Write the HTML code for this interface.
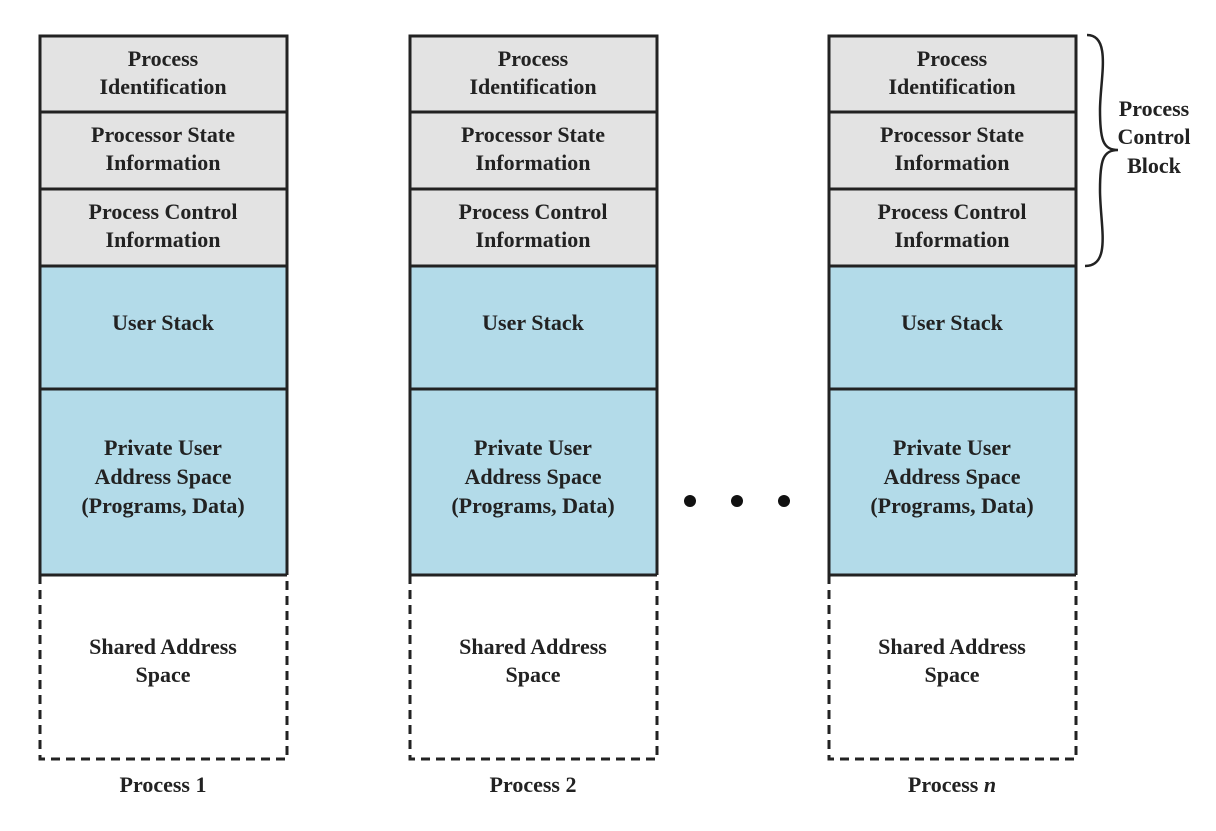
<!DOCTYPE html>
<html><head><style>body{margin:0;background:#fff}</style></head><body>
<svg width="1216" height="826" xmlns="http://www.w3.org/2000/svg" font-family="Liberation Serif, serif" font-weight="bold" font-size="22" fill="#222" text-anchor="middle">
<g id="c1">
<rect x="40" y="36" width="247" height="230" fill="#e3e3e3"/>
<rect x="40" y="266" width="247" height="309" fill="#b3dbe9"/>
<g stroke="#222" stroke-width="3" fill="none">
<path d="M40 575 V36 H287 V575"/>
<line x1="40" y1="112" x2="287" y2="112"/><line x1="40" y1="189" x2="287" y2="189"/>
<line x1="40" y1="266" x2="287" y2="266"/><line x1="40" y1="389" x2="287" y2="389"/>
<line x1="40" y1="575" x2="287" y2="575"/>
<path d="M40 575 V759 H287 V575" stroke-dasharray="9,6"/>
</g>
<text x="163" y="66">Process</text><text x="163" y="94">Identification</text>
<text x="163" y="142">Processor State</text><text x="163" y="170">Information</text>
<text x="163" y="219">Process Control</text><text x="163" y="247">Information</text>
<text x="163" y="330">User Stack</text>
<text x="163" y="455">Private User</text><text x="163" y="484">Address Space</text><text x="163" y="513">(Programs, Data)</text>
<text x="163" y="654">Shared Address</text><text x="163" y="682">Space</text>
</g>
<use href="#c1" x="370"/>
<use href="#c1" x="789"/>
<text x="163" y="792">Process 1</text>
<text x="533" y="792">Process 2</text>
<text x="952" y="792">Process <tspan font-style="italic">n</tspan></text>
<circle cx="690" cy="501" r="6" fill="#111"/><circle cx="737" cy="501" r="6" fill="#111"/><circle cx="784" cy="501" r="6" fill="#111"/>
<path d="M1087 35 C1112 35,1100 80,1100 110 C1100 140,1103 150,1118 150 C1103 150,1100 160,1100 190 C1100 225,1112 266,1085 266" stroke="#222" stroke-width="2.5" fill="none"/>
<text x="1154" y="116">Process</text><text x="1154" y="144">Control</text><text x="1154" y="173">Block</text>
</svg>
</body></html>
